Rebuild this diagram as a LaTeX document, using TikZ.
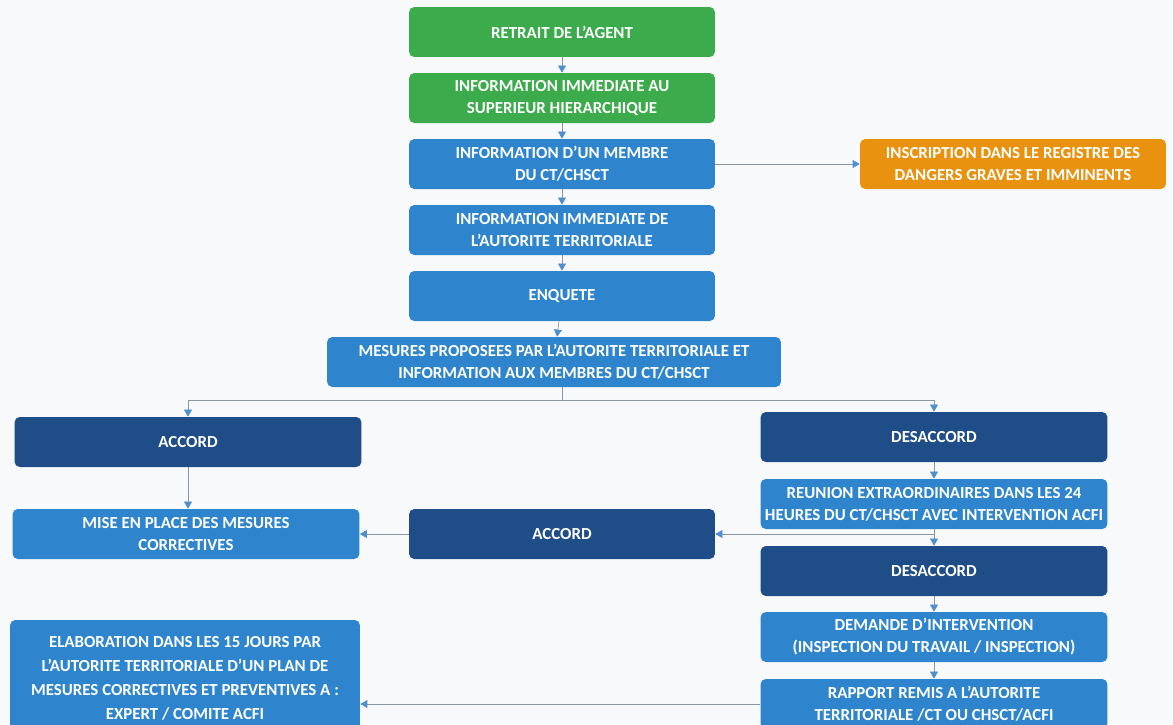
\documentclass[tikz,border=0pt]{standalone}
\usepackage{fontspec}
\setmainfont{Carlito}
\usetikzlibrary{arrows.meta}

\definecolor{agentgreen}{HTML}{3CAB4B}
\definecolor{stepblue}{HTML}{2E85CD}
\definecolor{darkblue}{HTML}{1F4D88}
\definecolor{registerorange}{HTML}{E8920F}
\definecolor{linegray}{HTML}{8A96A3}
\definecolor{tipblue}{HTML}{4F8FD0}
\definecolor{paper}{HTML}{F8F9FA}

\begin{document}
\begin{tikzpicture}[x=0.02cm,y=-0.02cm,
    box/.style={rounded corners=3pt, text=white, align=center, inner sep=2pt,
      font=\fontsize{9.6}{12.5}\selectfont\bfseries,
      minimum width=6.12cm, minimum height=1cm},
    green box/.style={box, fill=agentgreen},
    blue box/.style={box, fill=stepblue},
    dark box/.style={box, fill=darkblue},
    wide/.style={minimum width=6.94cm},
    link/.style={draw=linegray, thin, -{Triangle[length=4pt,width=4.5pt,color=tipblue]}}]
    \useasboundingbox (0,0) rectangle (1173,724);
    \clip (0,0) rectangle (1173,724);
    \fill[paper] (0,0) rectangle (1173,724);
    % main column
    \node[green box] (retrait) at (562,32) {RETRAIT DE L'AGENT};
    \node[green box] (superieur) at (562,98) {INFORMATION IMMEDIATE AU\\SUPERIEUR HIERARCHIQUE};
    \node[blue box] (membre) at (562,164) {INFORMATION D'UN MEMBRE\\DU CT/CHSCT};
    \node[box, fill=registerorange] (registre) at (1013,164) {INSCRIPTION DANS LE REGISTRE DES\\DANGERS GRAVES ET IMMINENTS};
    \node[blue box] (autorite) at (562,230) {INFORMATION IMMEDIATE DE\\L'AUTORITE TERRITORIALE};
    \node[blue box] (enquete) at (562,296) {ENQUETE};
    \node[blue box, minimum width=9.08cm] (mesures) at (554,362) {MESURES PROPOSEES PAR L'AUTORITE TERRITORIALE ET\\INFORMATION AUX MEMBRES DU CT/CHSCT};
    % left branch
    \node[dark box, wide] (accord) at (188,442) {ACCORD};
    \node[blue box, wide] (correctives) at (186,534) {MISE EN PLACE DES MESURES\\CORRECTIVES};
    \node[dark box] (accordbis) at (562,534) {ACCORD};
    \node[blue box, minimum width=7cm, minimum height=2.32cm,
      font=\fontsize{9.6}{13.6}\selectfont\bfseries] (plan) at (185,678) {ELABORATION DANS LES 15 JOURS PAR\\L'AUTORITE TERRITORIALE D'UN PLAN DE\\MESURES CORRECTIVES ET PREVENTIVES A :\\EXPERT / COMITE ACFI};
    % right branch
    \node[dark box, wide] (desaccord) at (934,437) {DESACCORD};
    \node[blue box, wide] (reunion) at (934,504) {REUNION EXTRAORDINAIRES DANS LES 24\\HEURES DU CT/CHSCT AVEC INTERVENTION ACFI};
    \node[dark box, wide] (desaccordbis) at (934,571) {DESACCORD};
    \node[blue box, wide] (demande) at (934,637) {DEMANDE D'INTERVENTION\\(INSPECTION DU TRAVAIL / INSPECTION)};
    \node[blue box, wide] (rapport) at (934,704) {RAPPORT REMIS A L'AUTORITE\\TERRITORIALE /CT OU CHSCT/ACFI};
    \coordinate (split) at (562,400);
    % connectors
    \begin{scope}[every edge/.style={link}]
      \path (retrait) edge (superieur)
            (superieur) edge (membre)
            (membre) edge (autorite)
            (membre) edge (registre)
            (autorite) edge (enquete)
            (enquete) edge (mesures)
            (accordbis) edge (correctives)
            (desaccord) edge (reunion)
            (reunion) edge (desaccordbis)
            (desaccordbis) edge (demande)
            (demande) edge (rapport);
    \end{scope}
    \draw[link] (accord) -- (accord |- correctives.north);
    \draw[draw=linegray, thin] (mesures.south -| split) -- (split);
    \draw[link] (split) -| (accord.north);
    \draw[link] (split) -| (desaccord.north);
    \draw[link] (reunion.south) |- (accordbis.east);
    \draw[link] (rapport.west) -- (plan.east |- rapport.west);
\end{tikzpicture}
\end{document}
